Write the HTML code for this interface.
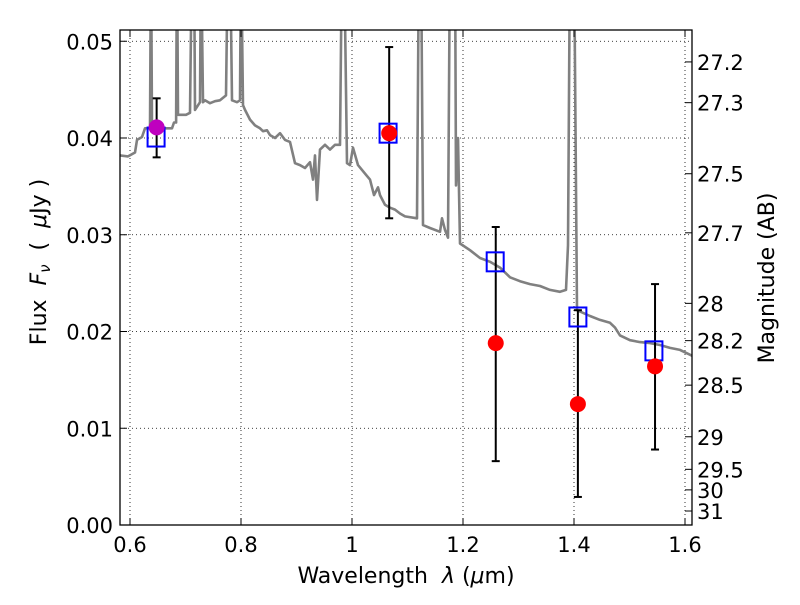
<!DOCTYPE html>
<html><head><meta charset="utf-8"><style>
html,body{margin:0;padding:0;background:#fff;}
svg text{font-family:"DejaVu Sans","Liberation Sans",sans-serif;}
</style></head><body>
<svg id="chart" width="800" height="600" xmlns="http://www.w3.org/2000/svg">
<defs><clipPath id="plotclip"><rect x="120" y="30" width="572" height="495"/></clipPath></defs>
<rect x="0" y="0" width="800" height="600" fill="#fff"/>
<g id="grid"></g>
<g id="plot" clip-path="url(#plotclip)"></g>
<rect x="120" y="30" width="572" height="495" fill="none" stroke="#000" stroke-width="1.3"/>
<g id="axes"></g>
<text x="406" y="583" font-size="22" text-anchor="middle" xml:space="preserve">Wavelength  <tspan font-style="italic">λ</tspan> (<tspan font-style="italic">μ</tspan>m)</text>
<text transform="translate(46,262) rotate(-90)" font-size="22" text-anchor="middle" xml:space="preserve">Flux  <tspan font-style="italic">F<tspan font-size="15" dy="4">ν</tspan></tspan><tspan dy="-4">  (  </tspan><tspan font-style="italic">μ</tspan>Jy )</text>
<text transform="translate(774,278) rotate(-90)" font-size="22" text-anchor="middle">Magnitude (AB)</text>
</svg>
<script>
const specLam=[0.582,0.5964,0.609,0.6126,0.6216,0.627,0.6324,0.636,0.6378,0.6396,0.645,0.663,0.6757,0.6793,0.683,0.6847,0.6865,0.7009,0.7081,0.7117,0.7153,0.7171,0.7261,0.7279,0.7315,0.7351,0.7441,0.7532,0.7622,0.773,0.7766,0.7802,0.7838,0.7928,0.7982,0.8,0.8036,0.8072,0.8162,0.8252,0.8342,0.8396,0.8468,0.8523,0.8613,0.8703,0.8793,0.8883,0.8973,0.9063,0.9153,0.9243,0.9297,0.9333,0.9369,0.9423,0.9514,0.9604,0.9694,0.9784,0.982,0.9856,0.991,0.9964,1.0018,1.0108,1.018,1.0252,1.0324,1.0396,1.0468,1.0505,1.0595,1.0685,1.0775,1.0865,1.0955,1.1171,1.1207,1.1243,1.1279,1.1405,1.1586,1.1622,1.1676,1.173,1.1766,1.182,1.1856,1.1874,1.191,1.1946,1.2126,1.2306,1.2486,1.2667,1.2847,1.3027,1.3207,1.3387,1.3568,1.3748,1.3856,1.3892,1.3928,1.4,1.4054,1.4288,1.4468,1.4649,1.4739,1.4829,1.5009,1.5189,1.5369,1.555,1.573,1.591,1.6126];
const specFlux=[0.0382,0.0381,0.0385,0.0398,0.0401,0.041,0.041,0.041,0.06,0.041,0.0408,0.041,0.041,0.0416,0.0416,0.06,0.0424,0.0424,0.0426,0.06,0.06,0.0429,0.0437,0.06,0.0437,0.0439,0.0436,0.0438,0.0439,0.0444,0.06,0.06,0.0439,0.0437,0.0439,0.06,0.0434,0.0429,0.0419,0.0413,0.041,0.0407,0.0408,0.0403,0.04,0.0405,0.0398,0.0396,0.0374,0.0372,0.0369,0.0375,0.0357,0.0382,0.0336,0.0388,0.0393,0.0388,0.0393,0.0393,0.06,0.06,0.0374,0.0372,0.039,0.0372,0.0367,0.0362,0.0357,0.0341,0.0349,0.0341,0.0331,0.0328,0.0326,0.0322,0.0319,0.0317,0.06,0.06,0.031,0.0307,0.0303,0.0317,0.0305,0.0297,0.06,0.06,0.06,0.0351,0.04,0.0291,0.0284,0.0276,0.0272,0.0266,0.0256,0.0252,0.0249,0.0247,0.0243,0.0241,0.0243,0.0289,0.06,0.06,0.0222,0.0216,0.0212,0.0209,0.0204,0.0196,0.0191,0.0189,0.0188,0.0186,0.0183,0.0181,0.0175];
const modelLam=[0.647,1.065,1.258,1.407,1.544];
const modelFlux=[0.0401,0.0405,0.0272,0.0215,0.018];
const obsLam=[0.648,1.067,1.259,1.407,1.546];
const obsFlux=[0.0411,0.0405,0.0188,0.0125,0.0164];
const obsHi=[0.0441,0.0494,0.0308,0.0222,0.0249];
const obsLo=[0.038,0.0317,0.0066,0.0029,0.0078];
const obsColor=["#bf00bf","red","red","red","red"];
const xTicks=[0.6,0.8,1.0,1.2,1.4,1.6];
const xTickLabels=["0.6","0.8","1","1.2","1.4","1.6"];
const yTicks=[0,0.01,0.02,0.03,0.04,0.05];
const yTickLabels=["0.00","0.01","0.02","0.03","0.04","0.05"];
const magTicks=[27.2,27.3,27.5,27.7,28,28.2,28.5,29,29.5,30,31];
const magTickLabels=["27.2","27.3","27.5","27.7","28","28.2","28.5","29","29.5","30","31"];

const NS="http://www.w3.org/2000/svg";
const X=l=>130+(l-0.6)*555;
const Y=f=>525-f*9675;
const magToFlux=m=>Math.pow(10,(23.9-m)/2.5);
function mk(tag,attrs,parent){const e=document.createElementNS(NS,tag);for(const k in attrs)e.setAttribute(k,attrs[k]);parent.appendChild(e);return e;}
const grid=document.getElementById('grid'),plot=document.getElementById('plot'),axes=document.getElementById('axes');

xTicks.forEach((t,i)=>{
  const g=mk('line',{x1:X(t),x2:X(t),y1:30,y2:525,stroke:'#000','stroke-width':0.8,'stroke-dasharray':'1,3'},grid);
  
  
  mk('line',{x1:X(t),x2:X(t),y1:525,y2:518,stroke:'#000'},axes);
  mk('line',{x1:X(t),x2:X(t),y1:30,y2:37,stroke:'#000'},axes);
  const tx=mk('text',{x:X(t),y:552,'font-size':21,'text-anchor':'middle'},axes);
  tx.textContent=xTickLabels[i];
  
  
});
yTicks.forEach((t,i)=>{
  const g=mk('line',{x1:120,x2:692,y1:Y(t),y2:Y(t),stroke:'#000','stroke-width':0.8,'stroke-dasharray':'1,3'},grid);
  
  
  mk('line',{x1:120,x2:127,y1:Y(t),y2:Y(t),stroke:'#000'},axes);
  const tx=mk('text',{x:113,y:Y(t)+8,'font-size':21,'text-anchor':'end'},axes);
  tx.textContent=yTickLabels[i];
  
  
});
magTicks.forEach((m,i)=>{
  const y=Y(magToFlux(m));
  mk('line',{x1:692,x2:685,y1:y,y2:y,stroke:'#000'},axes);
  const tx=mk('text',{x:697,y:y+8,'font-size':21},axes);
  tx.textContent=magTickLabels[i];
  
  
});

const pts=specLam.map((l,i)=>X(l).toFixed(1)+','+Y(specFlux[i]).toFixed(1)).join(' ');
const sp=mk('polyline',{points:pts,fill:'none',stroke:'#808080','stroke-width':2.6,'stroke-linejoin':'round'},plot);



obsLam.forEach((l,i)=>{
  const x=X(l);
  const eb=mk('g',{stroke:'#000','stroke-width':2},plot);
  
  
  mk('line',{x1:x,x2:x,y1:Y(obsHi[i]),y2:Y(obsLo[i])},eb);
  mk('line',{x1:x-4,x2:x+4,y1:Y(obsHi[i]),y2:Y(obsHi[i])},eb);
  mk('line',{x1:x-4,x2:x+4,y1:Y(obsLo[i]),y2:Y(obsLo[i])},eb);
});
modelLam.forEach((l,i)=>{
  const r=mk('rect',{x:X(l)-8.5,y:Y(modelFlux[i])-9.5,width:17,height:19,fill:'none',stroke:'#0000ff','stroke-width':2},plot);
  
  
});
obsLam.forEach((l,i)=>{
  const c=mk('circle',{cx:X(l),cy:Y(obsFlux[i]),r:8,fill:obsColor[i]},plot);
  
  
});
</script>
</body></html>
